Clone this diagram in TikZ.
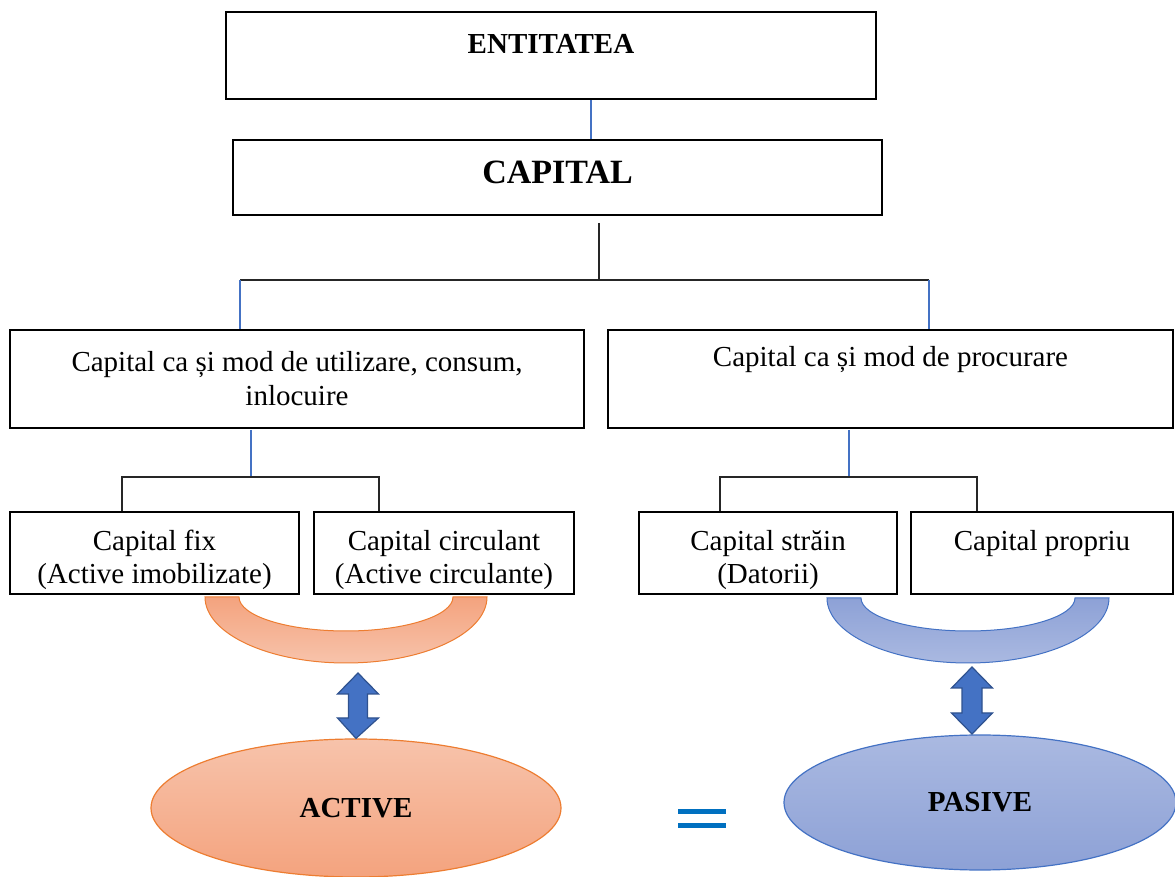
\documentclass[tikz,border=0pt]{standalone}
\usepackage{fontspec}
\setmainfont{Liberation Serif}
\usetikzlibrary{shapes.geometric}
\newcommand{\Unit}{0.5pt}
\definecolor{LinkBlue}{HTML}{4472C4}
\definecolor{ArrowEdge}{HTML}{2F528F}
\definecolor{EqBlue}{HTML}{0070C0}
\definecolor{OrangeEdge}{HTML}{ED7D31}
\definecolor{OrangeDark}{HTML}{F4A37E}
\definecolor{OrangeLight}{HTML}{F7C3AB}
\definecolor{BlueDark}{HTML}{8DA1D6}
\definecolor{BlueLight}{HTML}{AAB9E1}
\tikzset{Box/.style={
    inner sep=0pt,
    draw=black,
    line width=1.3pt,
    fill=white,
    align=center,
    font=\fontsize{14.5}{17}\selectfont
    }
}
\tikzset{SmallBox/.style={
    Box,
    minimum height=82*\Unit,
    text height=31pt,
    text depth=0pt
    }
}
\tikzset{BlackLine/.style={draw=black!85, line width=0.55pt}}
\tikzset{BlueLine/.style={draw=LinkBlue, line width=0.55pt}}
\tikzset{OrangeBand/.style={
    draw=OrangeEdge,
    line width=0.5pt,
    top color=OrangeDark,
    bottom color=OrangeLight
    }
}
\tikzset{BlueBand/.style={
    draw=LinkBlue,
    line width=0.5pt,
    top color=BlueDark,
    bottom color=BlueLight
    }
}
\tikzset{DoubleArrow/.style={fill=LinkBlue, draw=ArrowEdge, line width=0.6pt}}
\tikzset{Oval/.style={
    ellipse,
    inner sep=0pt,
    line width=0.6pt,
    font=\fontsize{14.5}{17}\selectfont\bfseries
    }
}

\begin{document}
\begin{tikzpicture}[x=\Unit, y=-\Unit]
    \useasboundingbox (0,0) rectangle (1175,877);

    \node (Ent) [Box, minimum width=650*\Unit, minimum height=87*\Unit, text depth=12pt] at (551,55.5) {\textbf{ENTITATEA}};
    \node (Cap) [Box, minimum width=649*\Unit, minimum height=75*\Unit, text depth=5.6pt, font=\fontsize{17}{20}\selectfont\bfseries] at (557.5,177.5) {CAPITAL};
        \draw [BlueLine] ([xshift=40*\Unit]Ent.south) -- ([xshift=33.5*\Unit]Cap.north);

    \node (Util) [Box, minimum width=574*\Unit, minimum height=98*\Unit] at (297,379)
    {Capital ca și mod de utilizare, consum,\\ inlocuire};
    \node (Proc) [Box, minimum width=565*\Unit, minimum height=98*\Unit] at (890.5,379)
    {Capital ca și mod de procurare\\ \strut};

    \coordinate (s1) at (599,223);
    \coordinate (s2) at (599,280);
    \coordinate (s3) at (240,280);
    \coordinate (s4) at (929,280);
        \draw [BlackLine] (s1) -- (s2);
        \draw [BlackLine] (s3) -- (s4);
        \draw [BlueLine] (s3) -- (s3 |- Util.north);
        \draw [BlueLine] (s4) -- (s4 |- Proc.north);

    \node (Fix) [SmallBox, minimum width=289*\Unit] at (154.5,553)
    {Capital fix\\ (Active imobilizate)};
    \node (Circ) [SmallBox, minimum width=260*\Unit] at (444,553)
    {Capital circulant\\ (Active circulante)};
    \node (Strain) [SmallBox, minimum width=258*\Unit] at (768,553)
    {Capital străin\\ (Datorii)};
    \node (Propriu) [SmallBox, minimum width=262*\Unit] at (1042,553)
    {Capital propriu\\ \strut};

    % left bracket
    \coordinate (c1) at (251,430);
    \coordinate (c2) at (251,477);
    \coordinate (c3) at (122,477);
    \coordinate (c4) at (379,477);
        \draw [BlueLine] (c1) -- (c2);
        \draw [BlackLine] (c3 |- Fix.north) -- (c3) -- (c4) -- (c4 |- Circ.north);

    % right bracket
    \coordinate (d1) at (849,430);
    \coordinate (d2) at (849,477);
    \coordinate (d3) at (720,477);
    \coordinate (d4) at (977,477);
        \draw [BlueLine] (d1) -- (d2);
        \draw [BlackLine] (d3 |- Strain.north) -- (d3) -- (d4) -- (d4 |- Propriu.north);

    % bands
    \path [OrangeBand] (205,597) arc[start angle=180, end angle=0, x radius=141, y radius=66]
        -- (453,597) arc[start angle=0, end angle=180, x radius=107, y radius=34] -- cycle;
    \path [BlueBand] (827,598) arc[start angle=180, end angle=0, x radius=141, y radius=65]
        -- (1075,598) arc[start angle=0, end angle=180, x radius=107, y radius=33] -- cycle;

    % ovals
    \node (Act) [Oval, draw=OrangeEdge, top color=OrangeLight, bottom color=OrangeDark,
        minimum width=410*\Unit, minimum height=138*\Unit] at (356,808) {ACTIVE};
    \node (Pas) [Oval, draw=LinkBlue, top color=BlueLight, bottom color=BlueDark,
        minimum width=392*\Unit, minimum height=135*\Unit] at (980,802.5) {PASIVE};

    % double arrows
    \draw [DoubleArrow] (358,673) -- (378.5,694) -- (367.5,694) -- (367.5,718) -- (378.5,718)
        -- (Act.north) -- (337.5,718) -- (348.5,718) -- (348.5,694) -- (337.5,694) -- cycle;
    \draw [DoubleArrow] (972,667) -- (992.5,688) -- (982,688) -- (982,713) -- (992.5,713)
        -- (972,734) -- (951.5,713) -- (962,713) -- (962,688) -- (951.5,688) -- cycle;

    % equals
    \fill [EqBlue] (678,809) rectangle (726,814);
    \fill [EqBlue] (678,823) rectangle (726,828);
\end{tikzpicture}
\end{document}
